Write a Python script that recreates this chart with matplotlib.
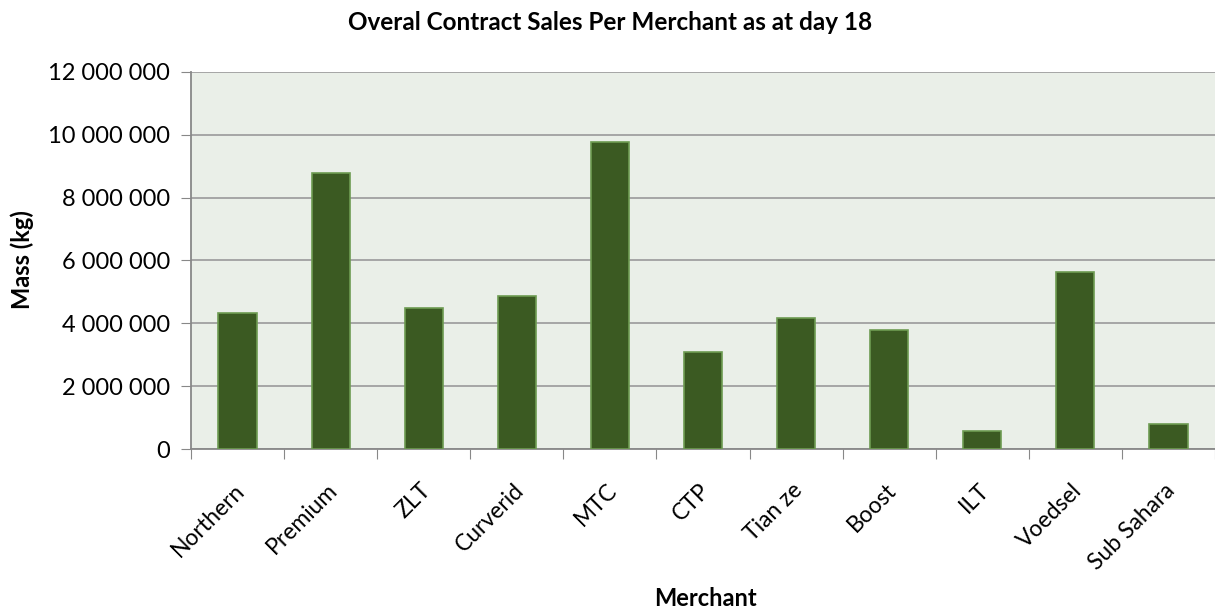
import numpy as np
import matplotlib.pyplot as plt
from matplotlib.ticker import FuncFormatter
from matplotlib.transforms import ScaledTranslation

merchants = ["Northern", "Premium", "ZLT", "Curverid", "MTC", "CTP",
             "Tian ze", "Boost", "ILT", "Voedsel", "Sub Sahara"]
mass_kg = [4320000, 8780000, 4480000, 4860000, 9760000, 3080000,
           4170000, 3780000, 570000, 5630000, 790000]

plt.rcParams['font.family'] = ['Lato', 'DejaVu Sans']

fig = plt.figure(figsize=(12.15, 6.13), dpi=100)
ax = fig.add_axes([191/1215, 1-449/613, 1024/1215, 377/613])
ax.set_facecolor('#EAEFE8')

x = np.arange(len(merchants))
ax.bar(x, mass_kg, width=0.41, color='#3B5A22', edgecolor='#6E9C52', linewidth=1.2, zorder=3)

ax.set_xlim(-0.5, len(merchants) - 0.5)
ax.set_ylim(0, 12000000)
ax.set_yticks(np.arange(0, 12000001, 2000000))
ax.yaxis.set_major_formatter(FuncFormatter(lambda v, p: f"{int(v):,}".replace(",", " ")))
ax.grid(axis='y', color='#A0A0A0', linewidth=1.3, zorder=1)

ax.set_xticks(np.arange(-0.5, len(merchants) + 0.5, 1))
ax.set_xticklabels([])
ax.set_xticks(x, minor=True)
ax.set_xticklabels(merchants, minor=True, rotation=45, ha='right', rotation_mode='anchor', fontsize=16.5)
ax.tick_params(axis='x', which='minor', length=0, pad=22)
ax.tick_params(axis='x', which='major', length=7, color='#888888')
ax.tick_params(axis='y', length=7, color='#888888', labelsize=17, pad=8)
for lbl in ax.get_xticklabels(minor=True):
    lbl.set_transform(lbl.get_transform() + ScaledTranslation(-0.04, 0, fig.dpi_scale_trans))

for s in ['top', 'right']:
    ax.spines[s].set_visible(False)
for s in ['left', 'bottom']:
    ax.spines[s].set_color('#888888')
    ax.spines[s].set_linewidth(1.3)

fig.text(610/1215, 1-22/613, "Overal Contract Sales Per Merchant as at day 18",
         fontsize=17.5, fontweight='bold', ha='center', va='center')
fig.text(22/1215, 1-260/613, "Mass (kg)", fontsize=17, fontweight='bold',
         rotation=90, ha='center', va='center')
fig.text(705/1215, 1-598/613, "Merchant", fontsize=17, fontweight='bold',
         ha='center', va='center')

fig.savefig("out.png", dpi=100)
